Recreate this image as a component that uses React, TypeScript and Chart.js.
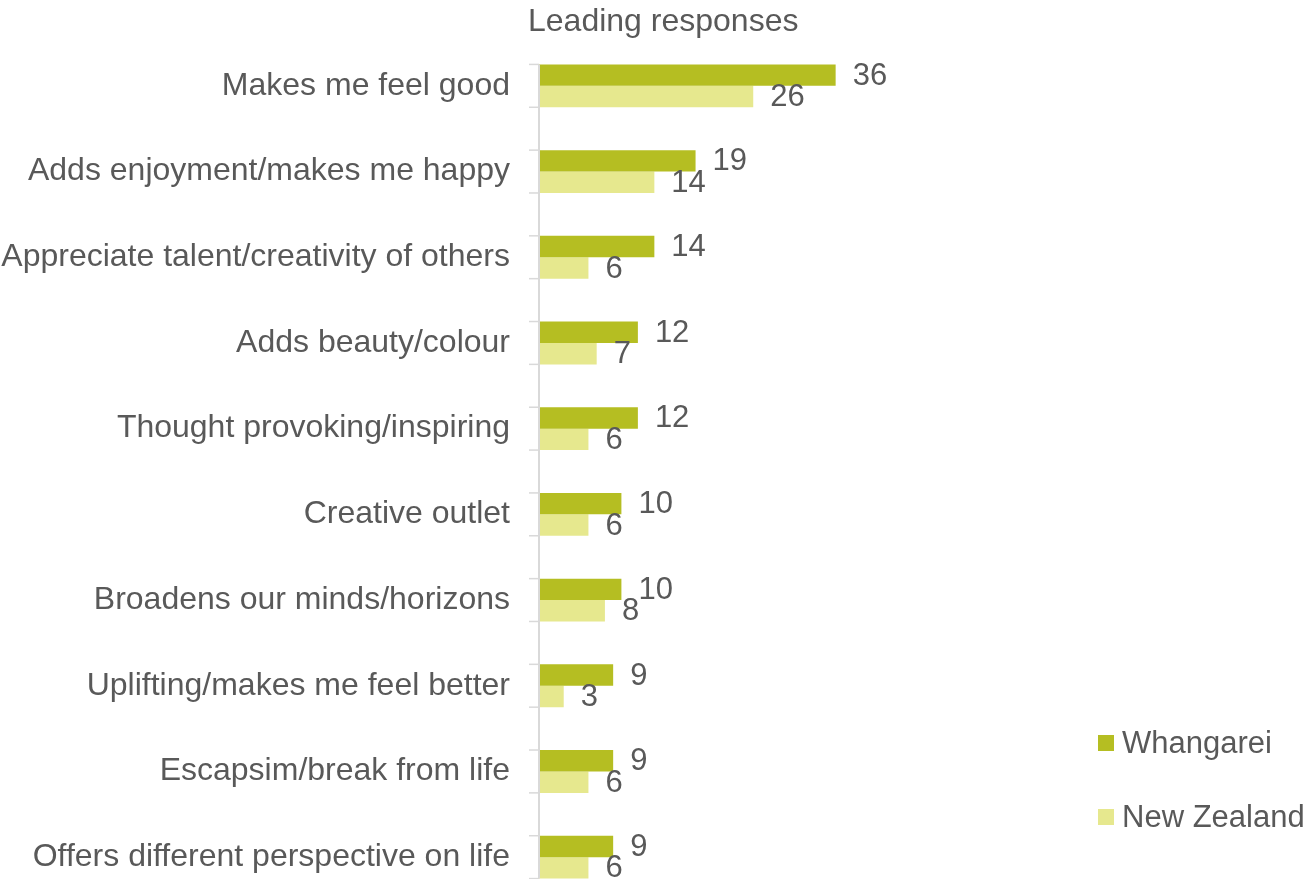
import React, { useEffect, useRef } from "react";
import { Chart, registerables } from "chart.js";

Chart.register(...registerables);

const categories = [
  "Makes me feel good",
  "Adds enjoyment/makes me happy",
  "Appreciate talent/creativity of others",
  "Adds beauty/colour",
  "Thought provoking/inspiring",
  "Creative outlet",
  "Broadens our minds/horizons",
  "Uplifting/makes me feel better",
  "Escapsim/break from life",
  "Offers different perspective on life",
];

const whangarei = [36, 19, 14, 12, 12, 10, 10, 9, 9, 9];
const newZealand = [26, 14, 6, 7, 6, 6, 8, 3, 6, 6];

const seriesNames = ["Whangarei", "New Zealand"];
const titleText = "Leading responses";

const DARK = "#B5BE22";
const LIGHT = "#E6E88E";
const TEXT = "#595959";
const AXIS = "#D9D9D9";
const FONT = "'Liberation Sans', Arial, sans-serif";

const axisPlugin = {
  id: "axisTicks",
  afterDatasetsDraw(chart: any) {
    const ctx = chart.ctx;
    const m0 = chart.getDatasetMeta(0);
    const m1 = chart.getDatasetMeta(1);
    const left = chart.chartArea.left;
    ctx.save();
    ctx.strokeStyle = AXIS;
    let first = Infinity;
    let last = -Infinity;
    ctx.lineWidth = 1.5;
    for (let i = 0; i < m0.data.length; i++) {
      const a = m0.data[i];
      const b = m1.data[i];
      const top = a.y - a.height / 2;
      const bot = b.y + b.height / 2;
      first = Math.min(first, top);
      last = Math.max(last, bot);
      for (const y of [top, bot]) {
        ctx.beginPath();
        ctx.moveTo(left - 10, y);
        ctx.lineTo(left, y);
        ctx.stroke();
      }
    }
    ctx.lineWidth = 2;
    ctx.beginPath();
    ctx.moveTo(left, first);
    ctx.lineTo(left, last);
    ctx.stroke();

    // data labels
    ctx.fillStyle = TEXT;
    ctx.font = `31px ${FONT}`;
    ctx.textAlign = "left";
    ctx.textBaseline = "middle";
    [0, 1].forEach((d) => {
      const meta = chart.getDatasetMeta(d);
      const vals = chart.data.datasets[d].data;
      meta.data.forEach((el: any, i: number) => {
        ctx.fillText(String(vals[i]), el.x + 17, el.y + 1);
      });
    });

    // title
    ctx.font = `32px ${FONT}`;
    ctx.fillText(titleText, left - 11, 22);

    // legend
    const colors = [DARK, LIGHT];
    const ys = [743, 817];
    seriesNames.forEach((n, i) => {
      ctx.fillStyle = colors[i];
      ctx.fillRect(1098, ys[i] - 8, 16, 16);
      ctx.fillStyle = TEXT;
      ctx.font = `31px ${FONT}`;
      ctx.fillText(n, 1122, ys[i] + 1);
    });
    ctx.restore();
  },
};

export default function App() {
  const ref = useRef<HTMLCanvasElement | null>(null);
  useEffect(() => {
    if (!ref.current) return;
    const chart = new Chart(ref.current, {
      type: "bar",
      data: {
        labels: categories,
        datasets: [
          { label: seriesNames[0], data: whangarei, backgroundColor: DARK },
          { label: seriesNames[1], data: newZealand, backgroundColor: LIGHT },
        ],
      },
      options: {
        indexAxis: "y",
        animation: false,
        responsive: true,
        maintainAspectRatio: false,
        datasets: { bar: { categoryPercentage: 0.5, barPercentage: 1 } },
        layout: { padding: { top: 43, bottom: 20, left: 0, right: 1309 - 539 - 80 * 8.24 } },
        plugins: {
          legend: { display: false },
          title: { display: false },
          tooltip: { enabled: false },
        },
        scales: {
          x: { display: false, min: 0, max: 80 },
          y: {
            afterFit: (s: any) => {
              s.width = 539;
              s.paddingTop = 0;
              s.paddingBottom = 0;
            },
            grid: { display: false, drawTicks: false },
            border: { display: false },
            ticks: {
              padding: 29,
              color: TEXT,
              font: { family: FONT, size: 32 },
            },
          },
        },
      },
      plugins: [axisPlugin],
    });
    return () => chart.destroy();
  }, []);
  return (
    <div style={{ position: "fixed", left: 0, top: 0, width: 1309, height: 879, overflow: "hidden", background: "#fff" }}>
      <div style={{ position: "relative", width: 1309, height: 920 }}>
        <canvas ref={ref} />
      </div>
    </div>
  );
}
